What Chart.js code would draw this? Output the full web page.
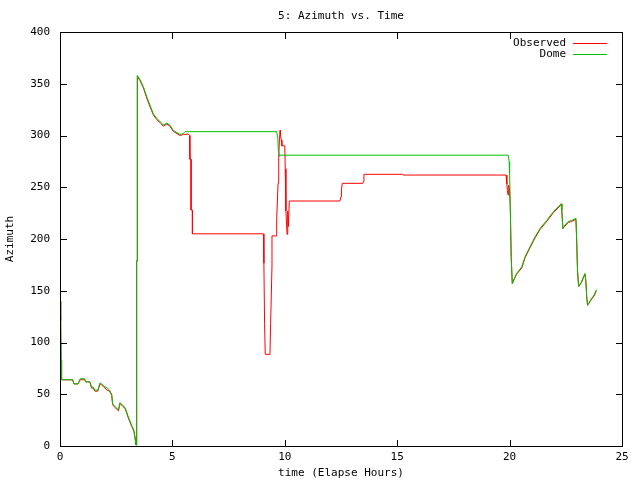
<!DOCTYPE html>
<html>
<head>
<meta charset="utf-8">
<script src="https://cdn.jsdelivr.net/npm/chart.js@4/dist/chart.umd.min.js"></script>
<style>
    html, body { margin: 0; padding: 0; background: #fff; }
    #wrap { width: 640px; height: 480px; }
</style>
</head>
<body>
<div id="wrap"><canvas id="azChart" width="640" height="480"></canvas></div>
<script>
// time in hours, azimuth in degrees
const obsTime = [0, 0.03, 0.05, 0.07, 0.56, 0.62, 0.8, 0.9, 1.1, 1.15, 1.33, 1.4, 1.47, 1.55, 1.68, 1.78, 1.85, 1.95, 2.1, 2.2, 2.3, 2.34, 2.45, 2.6, 2.67, 2.8, 2.9, 3.04, 3.19, 3.29, 3.34, 3.38, 3.41, 3.41, 3.44, 3.44, 3.56, 3.71, 3.86, 4.0, 4.15, 4.3, 4.52, 4.59, 4.75, 4.89, 5.04, 5.34, 5.49, 5.56, 5.71, 5.76, 5.78, 5.83, 5.83, 5.89, 5.89, 9.05, 9.07, 9.1, 9.13, 9.34, 9.37, 9.43, 9.43, 9.61, 9.64, 9.7, 9.73, 9.76, 9.79, 9.81, 9.84, 9.87, 10.0, 10.02, 10.05, 10.1, 10.13, 10.16, 10.2, 12.45, 12.5, 12.52, 12.56, 13.47, 13.5, 13.52, 15.24, 15.26, 19.84, 19.88, 19.9, 19.93, 19.96, 19.99, 20.03, 20.07, 20.12, 20.31, 20.54, 20.69, 20.91, 21.13, 21.35, 21.65, 21.95, 22.24, 22.29, 22.32, 22.37, 22.46, 22.61, 22.76, 22.95, 22.98, 23.02, 23.07, 23.2, 23.35, 23.39, 23.43, 23.47, 23.62, 23.76, 23.86];
const obsAz = [140, 121, 83, 64, 64, 60, 60, 64, 64, 62, 62, 56, 56, 53, 53, 60, 59, 57, 54, 53, 49, 40, 37, 34, 41, 38, 36, 27, 19, 14, 7, 1, 1, 179, 179, 357, 353, 346, 336, 328, 320, 315.5, 311, 309, 311, 309, 304, 300, 301, 301, 301.5, 300, 277, 277, 228, 228, 205, 205, 176.5, 118.5, 88.6, 88.6, 118.5, 174, 203, 203, 219.6, 253.8, 279, 295.7, 305, 300.5, 295.7, 290, 290, 268, 227, 204.5, 227, 212, 236.7, 236.7, 241, 248, 253.8, 253.8, 255.5, 262.5, 262.5, 261.8, 261.8, 253, 247, 242.5, 252, 250, 231.5, 183, 157, 166, 172, 182, 191.6, 201, 209, 217, 225.4, 232, 234, 228, 210, 212.5, 216, 217, 219, 202, 170, 154, 158, 166, 160, 144, 136, 141, 145, 150];

const domeTime = [0, 0.03, 0.05, 0.07, 0.56, 0.62, 0.8, 0.9, 1.1, 1.15, 1.33, 1.4, 1.47, 1.55, 1.68, 1.78, 1.85, 1.95, 2.1, 2.2, 2.3, 2.34, 2.45, 2.6, 2.67, 2.8, 2.9, 3.04, 3.19, 3.29, 3.34, 3.38, 3.41, 3.41, 3.44, 3.44, 3.56, 3.71, 3.86, 4.0, 4.15, 4.3, 4.52, 4.59, 4.75, 4.89, 5.04, 5.34, 5.49, 5.56, 9.64, 9.69, 9.71, 9.76, 9.78, 19.94, 19.98, 20.0, 20.03, 20.07, 20.12, 20.31, 20.54, 20.69, 20.91, 21.13, 21.35, 21.65, 21.95, 22.24, 22.29, 22.32, 22.37, 22.46, 22.61, 22.76, 22.95, 22.98, 23.02, 23.07, 23.2, 23.35, 23.39, 23.43, 23.47, 23.62, 23.76, 23.86];
const domeAz = [140, 121, 83, 64, 64, 60, 60, 65, 65, 62, 62, 57, 57, 54, 54, 61, 60, 58, 56, 54, 50, 41, 38, 35, 42, 39, 37, 28, 20, 15, 8, 1, 1, 179, 179, 358, 354, 347, 337.5, 329.5, 321, 316.6, 312, 310, 312, 310, 305, 301, 302, 303.7, 303.7, 297, 286, 280, 281, 281, 274.7, 263.4, 231.5, 183, 157, 166.8, 173, 183, 192.6, 202, 210, 218, 226.4, 232.8, 233.8, 228, 210, 213.5, 216.8, 218, 220, 202, 170, 154, 158.7, 166.8, 160, 144, 136, 141.7, 146, 151];

const xTicks = [0, 5, 10, 15, 20, 25];
const yTicks = [0, 50, 100, 150, 200, 250, 300, 350, 400];

const MONO = '"DejaVu Sans Mono", "Liberation Mono", monospace';

function toPoints(xs, ys) {
    return xs.map(function (x, i) { return { x: x, y: ys[i] }; });
}

// gnuplot style frame: border, inward ticks on all sides, legend top right
const gnuplotFrame = {
    id: 'gnuplotFrame',
    afterDraw: function (chart) {
        const ctx = chart.ctx;
        const a = chart.chartArea;
        const xs = chart.scales.x;
        const ys = chart.scales.y;
        const len = 6;
        const L = Math.round(a.left), R = Math.round(a.right);
        const T = Math.round(a.top), B = Math.round(a.bottom);
        ctx.save();
        ctx.fillStyle = '#000';
        // border
        ctx.fillRect(L, T, R - L + 1, 1);
        ctx.fillRect(L, B, R - L + 1, 1);
        ctx.fillRect(L, T, 1, B - T + 1);
        ctx.fillRect(R, T, 1, B - T + 1);
        // inward ticks, mirrored
        xTicks.forEach(function (v) {
            const px = Math.round(xs.getPixelForValue(v));
            ctx.fillRect(px, B - len, 1, len);
            ctx.fillRect(px, T + 1, 1, len);
        });
        yTicks.forEach(function (v) {
            const py = Math.round(ys.getPixelForValue(v));
            ctx.fillRect(L + 1, py, len, 1);
            ctx.fillRect(R - len, py, len, 1);
        });

        // legend
        ctx.font = '11px ' + MONO;
        ctx.textAlign = 'right';
        ctx.textBaseline = 'middle';
        chart.data.datasets.forEach(function (ds, i) {
            const y = 43 + i * 11;
            ctx.fillStyle = '#000';
            ctx.fillText(ds.label, 566, y);
            ctx.fillStyle = ds.borderColor;
            ctx.fillRect(573, y, 34, 1);
        });
        ctx.restore();
    }
};

const ctx = document.getElementById('azChart').getContext('2d');
const azChart = new Chart(ctx, {
    type: 'line',
    data: {
        datasets: [{
            label: 'Observed',
            data: toPoints(obsTime, obsAz),
            borderColor: '#ff0000',
            borderWidth: 1,
            pointRadius: 0,
            tension: 0,
            fill: false,
            order: 1
        }, {
            label: 'Dome',
            data: toPoints(domeTime, domeAz),
            borderColor: '#00c000',
            borderWidth: 1,
            pointRadius: 0,
            tension: 0,
            fill: false,
            order: 0
        }]
    },
    options: {
        responsive: false,
        animation: false,
        layout: {
            padding: { top: 0, right: 18, left: 0, bottom: 0 }
        },
        plugins: {
            legend: { display: false },
            tooltip: { enabled: false },
            title: {
                display: true,
                text: '5: Azimuth vs. Time',
                color: '#000',
                fullSize: false,
                font: { family: MONO, size: 11, weight: 'normal', lineHeight: 1.2 },
                padding: { top: 10, bottom: 8.8 }
            }
        },
        scales: {
            x: {
                type: 'linear',
                min: 0,
                max: 25,
                afterBuildTicks: function (scale) {
                    scale.ticks = xTicks.map(function (v) { return { value: v }; });
                },
                afterFit: function (scale) {
                    scale.height = 34;
                },
                grid: { display: false, drawTicks: false },
                border: { display: false },
                ticks: {
                    color: '#000',
                    padding: 5,
                    maxRotation: 0,
                    font: { family: MONO, size: 11 }
                },
                title: {
                    display: true,
                    text: 'time (Elapse Hours)',
                    color: '#000',
                    font: { family: MONO, size: 11 },
                    padding: { top: 0, bottom: 0 }
                }
            },
            y: {
                type: 'linear',
                min: 0,
                max: 400,
                afterBuildTicks: function (scale) {
                    scale.ticks = yTicks.map(function (v) { return { value: v }; });
                },
                afterFit: function (scale) {
                    scale.width = 60;
                },
                grid: { display: false, drawTicks: false },
                border: { display: false },
                ticks: {
                    color: '#000',
                    padding: 10,
                    font: { family: MONO, size: 11 }
                },
                title: {
                    display: true,
                    text: 'Azimuth',
                    color: '#000',
                    font: { family: MONO, size: 11 },
                    padding: { top: 4, bottom: 0 }
                }
            }
        }
    },
    plugins: [gnuplotFrame]
});
</script>
</body>
</html>
